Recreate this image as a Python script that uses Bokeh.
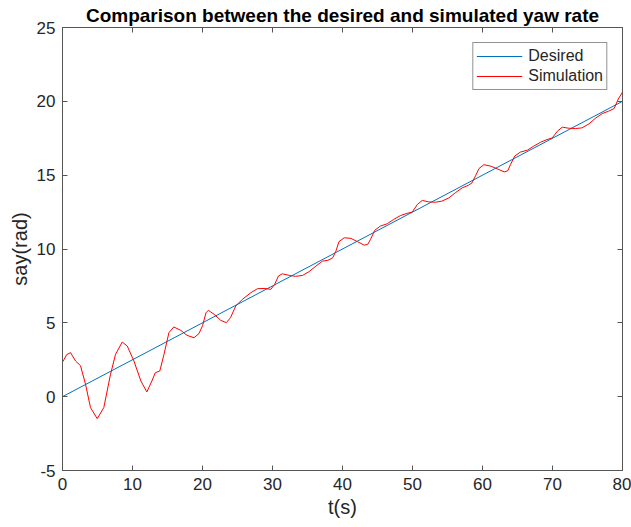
from bokeh.plotting import figure
from bokeh.models import Range1d, FixedTicker, LinearAxis, Legend, LegendItem, CustomLabelingPolicy
from bokeh.embed import file_html
from bokeh.resources import INLINE

title_text = "Comparison between the desired and simulated yaw rate"
x_label = "t(s)"
y_label = "say(rad)"
x_ticks = [0, 10, 20, 30, 40, 50, 60, 70, 80]
y_ticks = [-5, 0, 5, 10, 15, 20, 25]

desired_t = [0, 80]
desired_v = [0, 20]

sim_t = [0, 0.2, 0.6, 1.15, 1.86, 2.57, 3.29, 4.0, 4.96, 5.9,
         6.86, 7.58, 8.54, 9.25, 10.2, 11.2, 12.05, 12.77, 13.25, 13.9,
         14.5, 15.2, 15.9, 16.9, 17.8, 18.8, 19.5, 20.0, 20.5, 20.84,
         21.65, 22.6, 23.4, 24.0, 24.75, 25.7, 26.9, 27.85, 28.8, 29.76,
         30.3, 30.85, 31.4, 32.4, 33.3, 34.3, 35.2, 36.2, 37.15, 37.9,
         38.6, 39.05, 39.5, 40.25, 41.2, 42.17, 43.1, 43.6, 44.0, 44.6,
         45.4, 46.4, 47.3, 48.3, 49.2, 49.96, 50.7, 51.4, 52.3, 53.3,
         54.2, 55.2, 56.1, 57.1, 58.0, 58.5, 59.05, 59.5, 60.2, 61.2,
         62.1, 63.1, 63.6, 64.0, 64.6, 65.4, 66.4, 67.3, 68.3, 69.2,
         69.96, 70.7, 71.4, 72.3, 73.3, 74.2, 75.2, 76.1, 77.1, 78.0,
         78.8, 79.4, 80]
sim_v = [2.35, 2.5, 2.85, 2.98, 2.42, 2.1, 0.84, -0.74, -1.49, -0.74,
         1.52, 2.87, 3.7, 3.43, 2.42, 1.06, 0.32, 1.06, 1.62, 1.74,
         2.87, 4.33, 4.72, 4.49, 4.15, 3.99, 4.28, 4.8, 5.68, 5.85,
         5.58, 5.17, 5.01, 5.35, 6.14, 6.59, 7.04, 7.31, 7.33, 7.27,
         7.6, 8.17, 8.32, 8.21, 8.15, 8.21, 8.46, 8.84, 9.18, 9.23,
         9.4, 9.85, 10.5, 10.76, 10.72, 10.49, 10.26, 10.31, 10.65, 11.26,
         11.55, 11.71, 12.0, 12.27, 12.41, 12.5, 13.02, 13.29, 13.19, 13.17,
         13.24, 13.46, 13.8, 14.14, 14.32, 14.48, 15.0, 15.45, 15.71, 15.61,
         15.43, 15.22, 15.29, 15.72, 16.29, 16.56, 16.69, 16.96, 17.23, 17.41,
         17.52, 17.98, 18.25, 18.18, 18.16, 18.2, 18.47, 18.84, 19.17, 19.33,
         19.51, 20.16, 20.62]

FONT = "Liberation Sans"
AX_COLOR = "#555555"
TXT_COLOR = "#262626"

p = figure(width=631, height=527, output_backend="svg", toolbar_location=None,
           x_range=Range1d(0, 80), y_range=Range1d(-5, 25),
           min_border_left=62, min_border_right=9, min_border_top=26,
           min_border_bottom=57)
p.title.text = title_text
p.title.align = "center"
p.title.text_font = FONT
p.title.text_font_size = "19px"
p.title.text_font_style = "bold"
p.title.text_color = "black"
p.title.standoff = 4
p.title.offset = 0

p.xgrid.visible = False
p.ygrid.visible = False
p.outline_line_color = AX_COLOR
p.outline_line_width = 1
p.background_fill_color = "white"
p.border_fill_color = "white"

for ax in (p.xaxis[0], p.yaxis[0]):
    ax.major_tick_in = 5
    ax.major_tick_out = 0
    ax.minor_tick_in = 0
    ax.minor_tick_out = 0
    ax.axis_line_color = AX_COLOR
    ax.major_tick_line_color = AX_COLOR
    ax.major_label_text_font = FONT
    ax.major_label_text_font_size = "17px"
    ax.major_label_text_color = TXT_COLOR
    ax.axis_label_text_font = FONT
    ax.axis_label_text_font_size = "20px"
    ax.axis_label_text_font_style = "normal"
    ax.axis_label_text_color = TXT_COLOR

p.xaxis[0].ticker = FixedTicker(ticks=x_ticks)
p.yaxis[0].ticker = FixedTicker(ticks=y_ticks)
p.yaxis[0].major_label_overrides = {-5: "-5"}
p.xaxis[0].axis_label = x_label
p.yaxis[0].axis_label = y_label
p.xaxis[0].major_label_standoff = 7
p.xaxis[0].axis_label_standoff = 3
p.yaxis[0].major_label_standoff = 7
p.yaxis[0].axis_label_standoff = 3

hide_all = CustomLabelingPolicy(code="""
try {
  for (const i of Array.from(indices)) { indices.unset(i) }
  return indices
} catch (e) {
  try { return new indices.constructor(indices.size) } catch (e2) { return indices }
}
""")

# mirrored ticks on top and right (MATLAB box style), without labels
top = LinearAxis(ticker=FixedTicker(ticks=x_ticks), major_tick_in=5, major_tick_out=0,
                 minor_tick_in=0, minor_tick_out=0, axis_line_color=None,
                 major_tick_line_color=AX_COLOR, major_label_text_font_size="0px",
                 major_label_standoff=0, major_label_policy=hide_all)
right = LinearAxis(ticker=FixedTicker(ticks=y_ticks), major_tick_in=5, major_tick_out=0,
                   minor_tick_in=0, minor_tick_out=0, axis_line_color=None,
                   major_tick_line_color=AX_COLOR, major_label_text_font_size="0px",
                   major_label_standoff=0, major_label_policy=hide_all)
p.add_layout(top, "above")
p.add_layout(right, "right")

r1 = p.line(desired_t, desired_v, line_color="#0072BD", line_width=1)
r2 = p.line(sim_t, sim_v, line_color="#FF0000", line_width=1)

legend = Legend(items=[LegendItem(label="Desired", renderers=[r1]),
                       LegendItem(label="Simulation", renderers=[r2])],
                location="top_right", margin=15, padding=3, spacing=0,
                glyph_width=46, glyph_height=20, label_height=20,
                label_standoff=6, label_text_font=FONT,
                label_text_font_size="16px", label_text_color=TXT_COLOR,
                border_line_color="#262626", border_line_width=1,
                background_fill_color="white", background_fill_alpha=1)
p.add_layout(legend, "center")

open("out.html", "w").write(file_html(p, INLINE))
